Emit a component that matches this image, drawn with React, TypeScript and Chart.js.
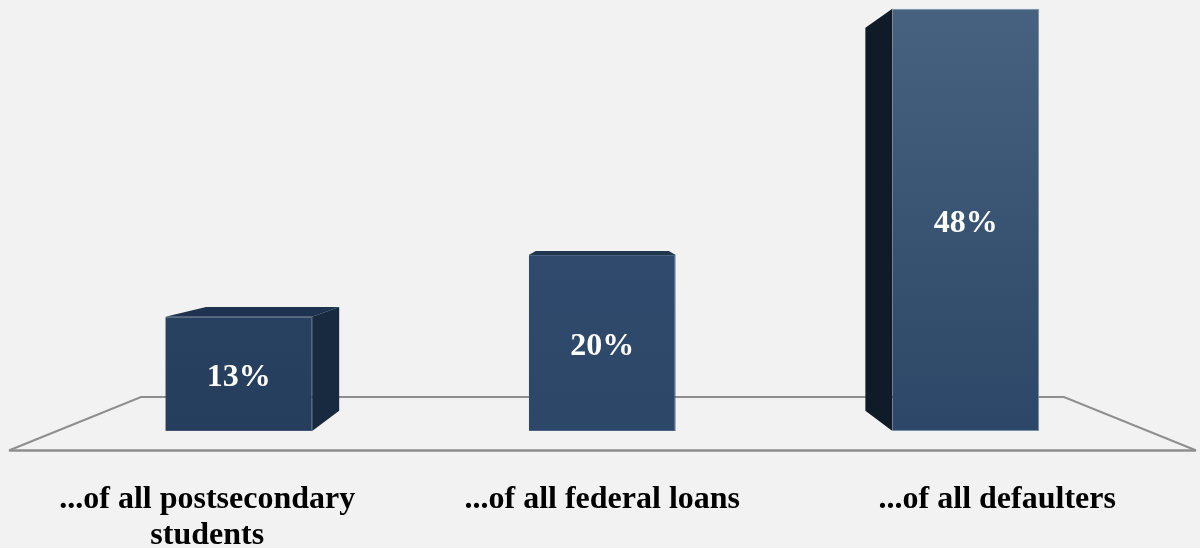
import React, { useEffect, useRef } from "react";
import { Chart, registerables } from "chart.js";

Chart.register(...registerables);

const categories = [["...of all postsecondary", "students"], ["...of all federal loans"], ["...of all defaulters"]];
const shares = [13, 20, 48];

const BACKGROUND = "#f2f2f2";
const FLOOR_COLOR = "#8e8e8e";
const LABEL_FONT = '"Liberation Serif", serif';

// Front-face gradient per bar (top, bottom), the rim, and the darker side and top faces.
const FRONT_TOP = ["#284160", "#2f4a6c", "#47627f"];
const FRONT_BOTTOM = ["#263e5d", "#2d4768", "#2c4767"];
const RIM = ["#3d5572", "#4a6381", "#7b8fa6"];
const SIDE_FACE = ["#182a40", "#182a40", "#0f1c27"];
const TOP_FACE = ["#1e3350", "#21374f", "#21374f"];

// One-point perspective used for the box depth.
const VANISH_X = 602.5;
const VANISH_Y = 212;
const DEPTH_SCALE = 0.907;
const project = (x: number, y: number): [number, number] => [
  VANISH_X + (x - VANISH_X) * DEPTH_SCALE,
  VANISH_Y + (y - VANISH_Y) * DEPTH_SCALE,
];

// Axis labels sit on the front edge of the floor, so they fan out from the bar centres.
const LABEL_SPREAD = 395 / 363.5;
const LABEL_FIRST_LINE_Y = 500;
const LABEL_LINE_HEIGHT = 36;

const fillPolygon = (ctx: CanvasRenderingContext2D, pts: [number, number][], color: string) => {
  ctx.beginPath();
  pts.forEach(([x, y], i) => (i ? ctx.lineTo(x, y) : ctx.moveTo(x, y)));
  ctx.closePath();
  ctx.fillStyle = color;
  ctx.fill();
};

const stagePlugin = {
  id: "stage",
  beforeDatasetsDraw(chart: any) {
    const { ctx } = chart;
    const meta = chart.getDatasetMeta(0);
    ctx.save();

    // Floor outline behind the boxes.
    ctx.strokeStyle = FLOOR_COLOR;
    ctx.lineCap = "round";
    ctx.lineWidth = 2;
    ctx.beginPath();
    ctx.moveTo(10, 450);
    ctx.lineTo(141, 397);
    ctx.lineTo(1064, 397);
    ctx.lineTo(1195, 450);
    ctx.stroke();
    ctx.lineWidth = 2.6;
    ctx.beginPath();
    ctx.moveTo(10, 450.5);
    ctx.lineTo(1195, 450.5);
    ctx.stroke();

    // Visible depth faces of each box.
    meta.data.forEach((bar: any, i: number) => {
      const left = bar.x - bar.width / 2;
      const right = bar.x + bar.width / 2;
      const { y: top, base: bottom } = bar;
      if (top > VANISH_Y) {
        fillPolygon(ctx, [[left, top], project(left, top), project(right, top), [right, top]], TOP_FACE[i]);
      }
      const edge = right < VANISH_X ? right : left > VANISH_X ? left : null;
      if (edge !== null) {
        fillPolygon(ctx, [[edge, top], project(edge, top), project(edge, bottom), [edge, bottom]], SIDE_FACE[i]);
      }
    });
    ctx.restore();
  },
  afterDatasetsDraw(chart: any) {
    const { ctx } = chart;
    const meta = chart.getDatasetMeta(0);
    const xScale = chart.scales.x;
    const mid = (xScale.left + xScale.right) / 2;
    ctx.save();
    ctx.textAlign = "center";
    ctx.textBaseline = "middle";

    // Value on each front face.
    ctx.fillStyle = "#ffffff";
    ctx.font = `bold 32px ${LABEL_FONT}`;
    meta.data.forEach((bar: any, i: number) => {
      ctx.fillText(`${shares[i]}%`, bar.x, (bar.y + bar.base) / 2 + 4);
    });

    // Category captions below the floor.
    ctx.fillStyle = "#000000";
    ctx.font = `bold 32px ${LABEL_FONT}`;
    categories.forEach((lines, i) => {
      const x = mid + (xScale.getPixelForValue(i) - mid) * LABEL_SPREAD;
      lines.forEach((line, j) => ctx.fillText(line, x, LABEL_FIRST_LINE_Y + j * LABEL_LINE_HEIGHT));
    });
    ctx.restore();
  },
};

export default function App() {
  const canvasRef = useRef<HTMLCanvasElement | null>(null);

  useEffect(() => {
    const chart = new Chart(canvasRef.current as HTMLCanvasElement, {
      type: "bar",
      data: {
        labels: categories.map((lines) => lines.join(" ")),
        datasets: [
          {
            data: shares,
            barPercentage: 0.404,
            categoryPercentage: 1,
            borderWidth: 1,
            borderSkipped: "left",
            borderColor: RIM,
            backgroundColor: (context: any) => {
              const { chart: c, dataIndex } = context;
              const yScale = c.scales.y;
              const from = yScale ? yScale.getPixelForValue(shares[dataIndex]) : NaN;
              const to = yScale ? yScale.getPixelForValue(0) : NaN;
              // Scales have no pixel range until the first layout pass has run.
              if (!Number.isFinite(from) || !Number.isFinite(to)) return FRONT_BOTTOM[dataIndex];
              const g = c.ctx.createLinearGradient(0, from, 0, to);
              g.addColorStop(0, FRONT_TOP[dataIndex]);
              g.addColorStop(1, FRONT_BOTTOM[dataIndex]);
              return g;
            },
          },
        ],
      },
      options: {
        animation: false,
        responsive: false,
        layout: { padding: { left: 57, right: 52.5, top: 0, bottom: 117 } },
        plugins: { legend: { display: false }, tooltip: { enabled: false } },
        scales: {
          x: { type: "category", display: false },
          y: { type: "linear", display: false, min: 0, max: 49 },
        },
      },
      plugins: [stagePlugin],
    } as any);
    return () => chart.destroy();
  }, []);

  return (
    <div style={{ position: "absolute", left: 0, top: 0, width: 1200, height: 548, background: BACKGROUND }}>
      <canvas ref={canvasRef} width={1200} height={548} style={{ display: "block" }} />
    </div>
  );
}
